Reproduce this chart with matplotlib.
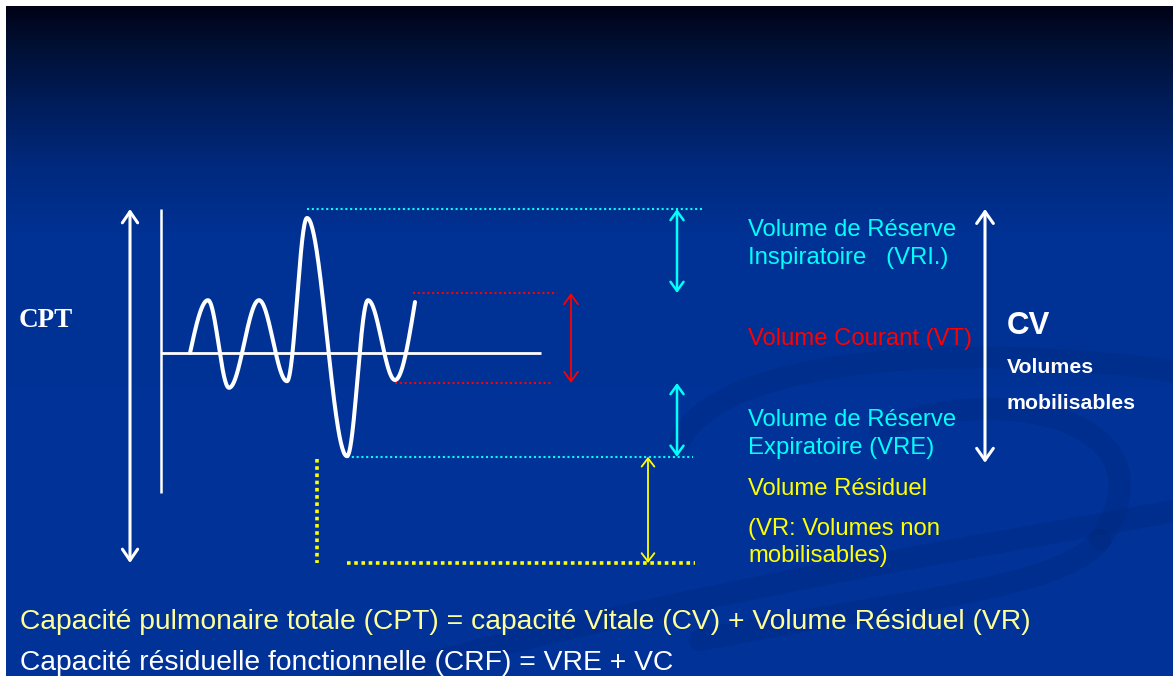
import numpy as np
import matplotlib.pyplot as plt
from matplotlib.patches import FancyArrowPatch, ArrowStyle, PathPatch
from matplotlib.path import Path

W, H = 1173, 676

# spirogram extrema: time (s) and lung volume (L above the residual floor)
breath_t = [1.45, 2.35, 3.4, 4.9, 6.3, 7.3, 9.3, 10.35, 11.7, 12.7]
breath_v = [3.5, 4.38, 2.92, 4.38, 3.03, 5.75, 1.78, 4.38, 3.05, 4.35]

baseline_v = 3.5
level_vri = 5.9        # maximal inspiration
level_vt_top = 4.5     # end of normal inspiration
level_vt_bottom = 3.0  # end of normal expiration
level_vre = 1.77       # maximal expiration
level_rv = 0.0         # bottom of residual volume

CYAN = '#00ffff'
RED = '#ff0000'
YELLOW = '#ffff00'
PALE_YELLOW = '#ffff99'
SANS = 'Liberation Sans'

fig = plt.figure(figsize=(W / 100, H / 100), dpi=100, facecolor='white')

# slide background: dark vertical gradient with a faint swirl
bg = fig.add_axes([6 / W, 0, (W - 6) / W, (H - 6) / H])
bg.set_xlim(6, W)
bg.set_ylim(H, 6)
bg.axis('off')
rows = np.arange(6, H)
stop_y = [6, 40, 100, 170, 240, H]
stop_c = np.array([[0, 2, 22], [0, 14, 48], [0, 28, 88], [0, 42, 128],
                   [0, 50, 150], [0, 51, 153]]) / 255
grad = np.stack([np.interp(rows, stop_y, stop_c[:, k]) for k in range(3)], axis=-1)
bg.imshow(grad[:, None, :], extent=(6, W, H, 6), aspect='auto', interpolation='bilinear')

swirls = [
    [(330, 690), (650, 600), (900, 560), (1180, 510)],
    [(680, 440), (720, 360), (950, 340), (1180, 372)],
    [(880, 430), (1000, 380), (1180, 420), (1100, 540)],
    [(1100, 540), (1060, 590), (900, 600), (700, 640)],
]
for pts in swirls:
    path = Path(pts, [Path.MOVETO, Path.CURVE4, Path.CURVE4, Path.CURVE4])
    bg.add_patch(PathPatch(path, fill=False, lw=16, color='#00246e', alpha=0.22,
                           capstyle='round'))

# spirogram axes in seconds / litres
ax = fig.add_axes([0, 0, 1, 1])
ax.patch.set_alpha(0)
ax.set_xlim(-161 / 20, (W - 161) / 20)
ax.set_ylim((563 - H) / 60, 563 / 60)
ax.axis('off')

# volume axis and resting level
ax.plot([0, 0], [1.17, level_vri], color='white', lw=1.8, solid_capstyle='butt')
ax.plot([0, 19], [baseline_v, baseline_v], color='white', lw=2.0, solid_capstyle='butt')

# breathing trace: smooth half-waves between successive extrema
tt, vv = [], []
n_seg = len(breath_t) - 1
for i in range(n_seg):
    s = np.linspace(0, 1, 60)
    if i == 0:
        shape = np.sin(np.pi / 2 * s)
    elif i == n_seg - 1:
        shape = 1 - np.cos(np.pi / 2 * s)
    else:
        shape = (1 - np.cos(np.pi * s)) / 2
    tt.append(breath_t[i] + (breath_t[i + 1] - breath_t[i]) * s)
    vv.append(breath_v[i] + (breath_v[i + 1] - breath_v[i]) * shape)
ax.plot(np.concatenate(tt), np.concatenate(vv), color='white', lw=2.9,
        solid_joinstyle='round', solid_capstyle='round', zorder=5)

# dotted reference levels
dot_small = (0, (1, 1.3))
ax.plot([7.3, 27.1], [level_vri, level_vri], color=CYAN, lw=1.5, ls=dot_small)
ax.plot([12.6, 19.8], [level_vt_top, level_vt_top], color=RED, lw=1.5, ls=dot_small)
ax.plot([11.7, 19.55], [level_vt_bottom, level_vt_bottom], color=RED, lw=1.5, ls=dot_small)
ax.plot([9.3, 26.6], [level_vre, level_vre], color=CYAN, lw=1.5, ls=dot_small)
ax.plot([9.3, 26.7], [level_rv, level_rv], color=YELLOW, lw=2.6, ls=(0, (1, 1)))
ax.plot([7.8, 7.8], [1.73, level_rv], color=YELLOW, lw=2.6, ls=(0, (1, 1)))


def vol_arrow(t, v0, v1, color, lw, hl, hw):
    ax.add_patch(FancyArrowPatch(
        (t, v0), (t, v1),
        arrowstyle=ArrowStyle('<->', head_length=hl, head_width=hw),
        mutation_scale=1, color=color, lw=lw, shrinkA=0, shrinkB=0, zorder=6))


vol_arrow(-1.55, level_rv, level_vri, 'white', 2.2, 8, 5.5)           # CPT
vol_arrow(25.8, level_vt_top, level_vri, CYAN, 1.8, 6.5, 4.7)         # VRI
vol_arrow(20.5, level_vt_bottom, level_vt_top, RED, 1.3, 7, 5)        # VT
vol_arrow(25.8, level_vre, level_vt_bottom, CYAN, 1.8, 6.5, 4.7)      # VRE
vol_arrow(24.35, level_rv, level_vre, YELLOW, 1.3, 6, 4.6)            # VR
vol_arrow(41.2, level_vre - 0.1, level_vri, 'white', 2.2, 8.5, 6)     # CV


def label(x, y, s, color, size=17.2, weight='normal', family=SANS):
    fig.text(x / W, 1 - y / H, s, ha='left', va='baseline', color=color,
             fontsize=size, fontweight=weight, family=family)


label(19, 327, 'CPT', 'white', size=19.5, weight='bold', family='Liberation Serif')

label(748, 236, 'Volume de Réserve', CYAN)
label(748, 264, 'Inspiratoire   (VRI.)', CYAN)
label(748, 345, 'Volume Courant (VT)', RED)
label(748, 426, 'Volume de Réserve', CYAN)
label(748, 454, 'Expiratoire (VRE)', CYAN)
label(748, 495, 'Volume Résiduel', YELLOW)
label(748, 535, '(VR: Volumes non', YELLOW)
label(748, 562, 'mobilisables)', YELLOW)

label(1007, 334, 'CV', 'white', size=22.5, weight='bold')
label(1007, 373, 'Volumes', 'white', size=15.3, weight='bold')
label(1007, 409, 'mobilisables', 'white', size=15.3, weight='bold')

label(20, 629, 'Capacité pulmonaire totale (CPT) = capacité Vitale (CV) + Volume Résiduel (VR)',
      PALE_YELLOW, size=20.3)
label(20, 670, 'Capacité résiduelle fonctionnelle (CRF) = VRE + VC', 'white', size=20.3)

fig.savefig('out.png', dpi=100, facecolor='white')
